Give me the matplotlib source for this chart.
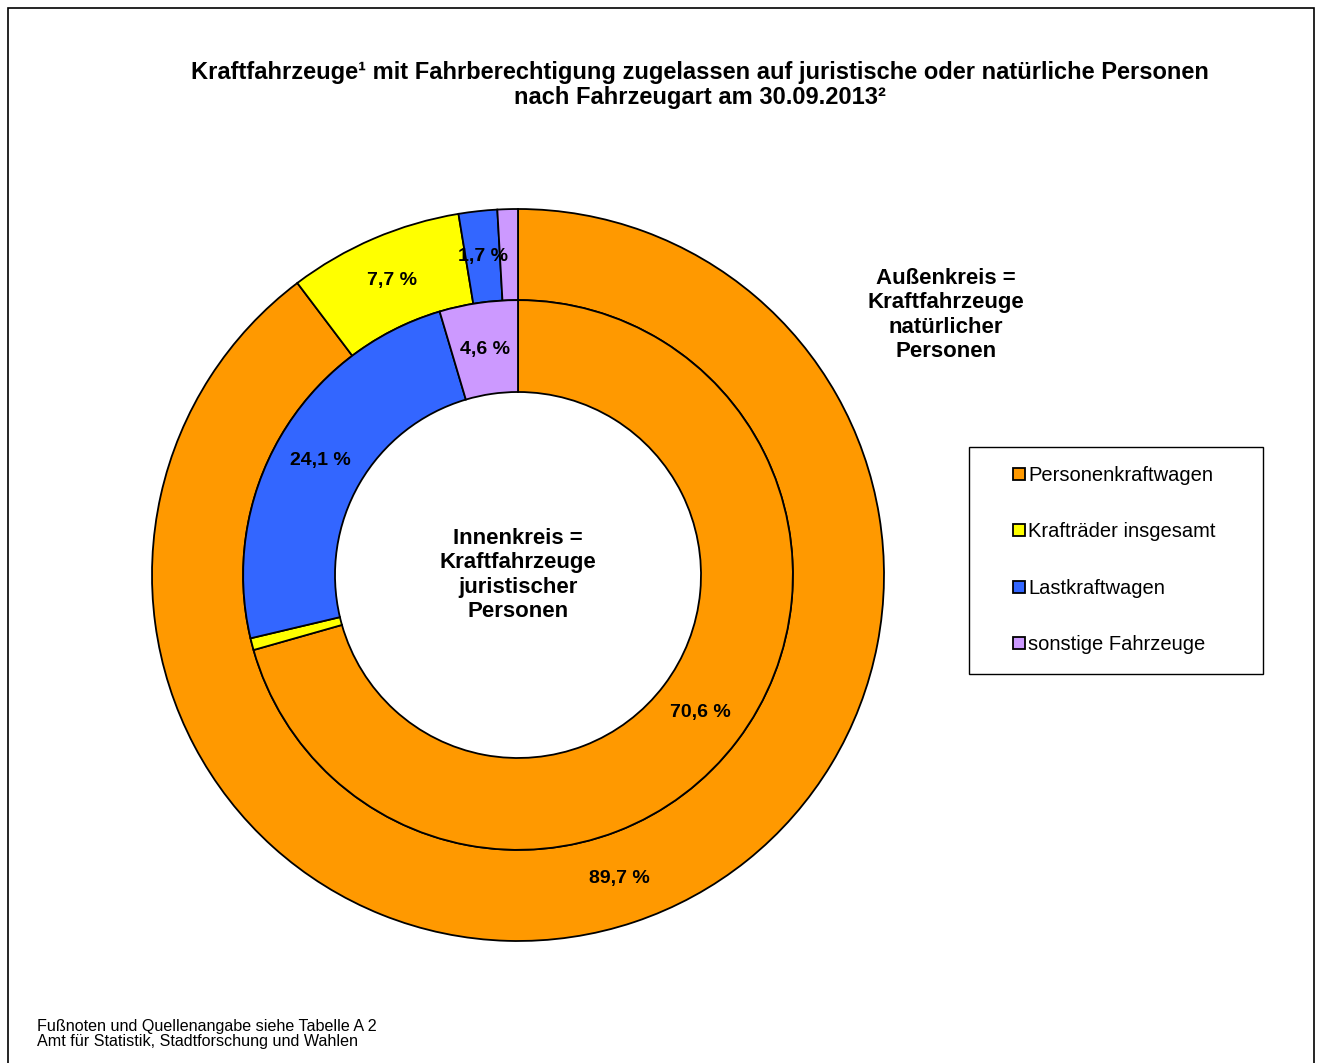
import matplotlib.pyplot as plt
from matplotlib.lines import Line2D
from matplotlib.patches import Rectangle

plt.rcParams['font.family'] = ['Liberation Sans', 'DejaVu Sans']

categories = ['Personenkraftwagen', 'Krafträder insgesamt',
              'Lastkraftwagen', 'sonstige Fahrzeuge']
# Außenkreis: natürliche Personen, Innenkreis: juristische Personen
natuerlich = [89.7, 7.7, 1.7, 0.9]
juristisch = [70.6, 0.7, 24.1, 4.6]
colors = ['#FF9900', '#FFFF00', '#3366FF', '#CC99FF']


def pct_label(p):
    # small slices are not labelled in the original
    if p < 1.0:
        return ''
    return f'{p:.1f} %'.replace('.', ',')


W, H = 1317, 1063
fig = plt.figure(figsize=(W / 100, H / 100), dpi=100)

# frame round the whole figure
fig.patches.append(Rectangle((8 / W, -0.01), 1306 / W, 1 - 8 / H + 0.01,
                             transform=fig.transFigure, fill=False,
                             edgecolor='black', linewidth=1.2))

ax = fig.add_axes([152 / W, 122 / H, 732 / W, 732 / H])

wedge_kw = dict(edgecolor='black', linewidth=1.3)
text_kw = dict(fontsize=14, fontweight='bold', color='black')

ax.pie(natuerlich, colors=colors, startangle=90, counterclock=False,
       radius=1.0, autopct=pct_label, pctdistance=0.875,
       wedgeprops=dict(width=0.249, **wedge_kw), textprops=text_kw)
ax.pie(juristisch, colors=colors, startangle=90, counterclock=False,
       radius=0.751, autopct=pct_label, pctdistance=0.83,
       wedgeprops=dict(width=0.251, **wedge_kw), textprops=text_kw)
ax.set_xlim(-1.0, 1.0)
ax.set_ylim(-1.0, 1.0)
ax.set_aspect('equal')
ax.axis('off')

ax.text(0, 0.0, 'Innenkreis =\nKraftfahrzeuge\njuristischer\nPersonen',
        ha='center', va='center', fontsize=16, fontweight='bold',
        linespacing=1.22)

fig.text(946 / W, 1 - 315 / H,
         'Außenkreis =\nKraftfahrzeuge\nnatürlicher\nPersonen',
         ha='center', va='center', fontsize=16, fontweight='bold',
         linespacing=1.22)

fig.text(700 / W, 1 - 85 / H,
         'Kraftfahrzeuge¹ mit Fahrberechtigung zugelassen auf juristische '
         'oder natürliche Personen\nnach Fahrzeugart am 30.09.2013²',
         ha='center', va='center', fontsize=17, fontweight='bold',
         linespacing=1.12)

fig.text(37 / W, 1 - 1034 / H,
         'Fußnoten und Quellenangabe siehe Tabelle A 2\n'
         'Amt für Statistik, Stadtforschung und Wahlen',
         ha='left', va='center', fontsize=11.6, linespacing=1.05)

# legend frame drawn separately (wider horizontal padding than vertical)
fig.patches.append(Rectangle((969 / W, 1 - 674 / H), 294 / W, 227 / H,
                             transform=fig.transFigure, fill=False,
                             edgecolor='black', linewidth=1.0))
handles = [Line2D([], [], linestyle='none', marker='s', markersize=8.5,
                  markerfacecolor=c, markeredgecolor='black',
                  markeredgewidth=1.3) for c in colors]
leg = fig.legend(handles, categories, loc='center left',
                 bbox_to_anchor=(1013 / W, 1 - 560 / H),
                 fontsize=14.5, frameon=False, handlelength=0.6,
                 handletextpad=0.15, labelspacing=1.85, borderpad=0,
                 borderaxespad=0)

fig.savefig('out.png', dpi=100)
